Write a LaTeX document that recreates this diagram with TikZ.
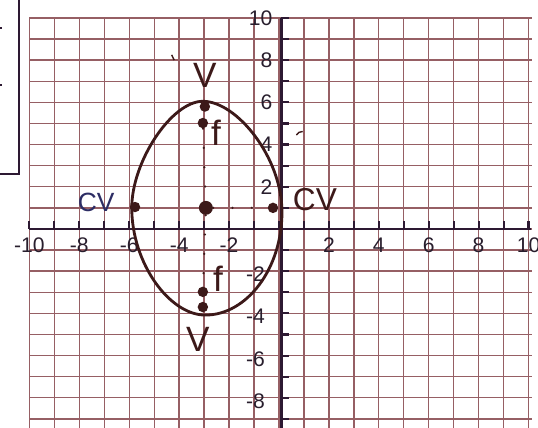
\documentclass[tikz,border=0pt]{standalone}
\usepackage{fontspec}
\setmainfont{Liberation Sans}
\definecolor{gridc}{RGB}{150,95,100}
\definecolor{axisc}{RGB}{45,25,50}
\definecolor{inkc}{RGB}{60,25,25}
\definecolor{numc}{RGB}{40,30,45}
\definecolor{bluec}{RGB}{45,45,100}

\begin{document}
\begin{tikzpicture}[
    x=0.499cm, y=0.422cm,
    gridline/.style={draw=gridc, line width=0.8pt},
    axisline/.style={draw=axisc, line width=1.6pt},
    tickline/.style={draw=axisc, line width=1.2pt},
    dot/.style={circle, fill=inkc, inner sep=2.1pt},
    bigdot/.style={circle, fill=inkc, inner sep=2.8pt},
    num/.style={font=\fontsize{12}{14}\selectfont, text=numc, inner sep=0pt},
    hand/.style={font=\fontsize{20}{24}\selectfont, text=inkc, inner sep=0pt},
    dotline/.style={draw=inkc, line width=1.4pt, line cap=round, dash pattern=on 0pt off 11pt},
    curve/.style={draw=inkc, line width=1.6pt}
]
    \useasboundingbox[fill=white] (-11.18,-9.43) rectangle (10.38,10.85);

    % 网格
    \foreach \x in {-10,...,10}
        \draw[gridline] (\x,10) -- (\x,-9.43);
    \foreach \y in {-9,...,10}
        \draw[gridline] (-10,\y) -- (10.15,\y);

    % 坐标轴和刻度
    \draw[axisline] (-10,0) -- (10.1,0);
    \draw[axisline] (0.1,10) -- (0.1,-9.43);
    \foreach \x in {-10,...,10}
        \draw[tickline] (\x,0) -- (\x,0.38);
    \foreach \y in {-9,...,10}
        \draw[tickline] (0.1,\y) -- (0.42,\y);

    % 刻度数字
    \foreach \x [count=\i] in {-10,-8,-6,-4,-2,2,4,6,8,10}
        \node[num] (xl\i) at (\x,-0.78) {\x};
    \foreach \y [count=\i] in {10,8,6,4,2}
        \node[num, anchor=east] (yp\i) at (-0.25,\y) {\y};
    \foreach \y [count=\i] in {-2,-4,-6,-8}
        \node[num, anchor=east] (yn\i) at (-0.55,\y-0.15) {\y};

    % 左上角的框
    \draw[axisc, line width=1.1pt] (-11.18,2.61) -- (-10.42,2.61) -- (-10.42,10.85);
    \draw[axisc, line width=0.8pt] (-11.18,9.53) -- (-11.08,9.53);
    \draw[axisc, line width=0.8pt] (-11.18,6.82) -- (-11.08,6.82);

    % 椭圆 (手绘, 上窄下宽)
    \draw[curve] (-3.05,6.05)
        .. controls (-1.7,6.05) and (0.12,3.4) .. (0.12,0.8)
        .. controls (0.12,-1.9) and (-1.3,-4.08) .. (-2.95,-4.08)
        .. controls (-4.4,-4.08) and (-5.9,-1.6) .. (-5.9,1.0)
        .. controls (-5.9,3.2) and (-4.3,6.05) .. cycle;

    % 点 (顶点, 焦点, 中心, 共顶点)
    \node[dot] (vT) at (-2.97,5.8) {};
    \node[dot] (fT) at (-3.05,5.02) {};
    \node[bigdot] (ctr) at (-2.93,1.0) {};
    \node[dot] (cvL) at (-5.77,1.04) {};
    \node[dot] (cvR) at (-0.24,1.0) {};
    \node[dot] (fB) at (-3.05,-2.98) {};
    \node[dot] (vB) at (-3.05,-3.7) {};

    % 虚点线
    \draw[dotline] (fT) -- (ctr);
    \draw[dotline] (ctr) -- (fB);
    \draw[dotline] (ctr) -- (cvR);

    % 手写标签
    \node[hand] (lvT) at (-2.97,7.3) {V};
    \node[hand] (lfT) at (-2.52,4.55) {f};
    \node[hand, font=\fontsize{15}{18}\selectfont, text=bluec] (lcvL) at (-7.33,1.28) {CV};
    \node[hand, font=\fontsize{18}{22}\selectfont] (lcvR) at (1.44,1.37) {CV};
    \node[hand] (lfB) at (-2.44,-2.37) {f};
    \node[hand] (lvB) at (-3.25,-5.21) {V};

    % 零星笔迹
    \draw[inkc, line width=0.8pt] (-4.3,8.25) -- (-4.2,8.0);
    \draw[inkc, line width=0.8pt] (0.7,4.45) to[bend left=30] (0.95,4.62);
\end{tikzpicture}
\end{document}
